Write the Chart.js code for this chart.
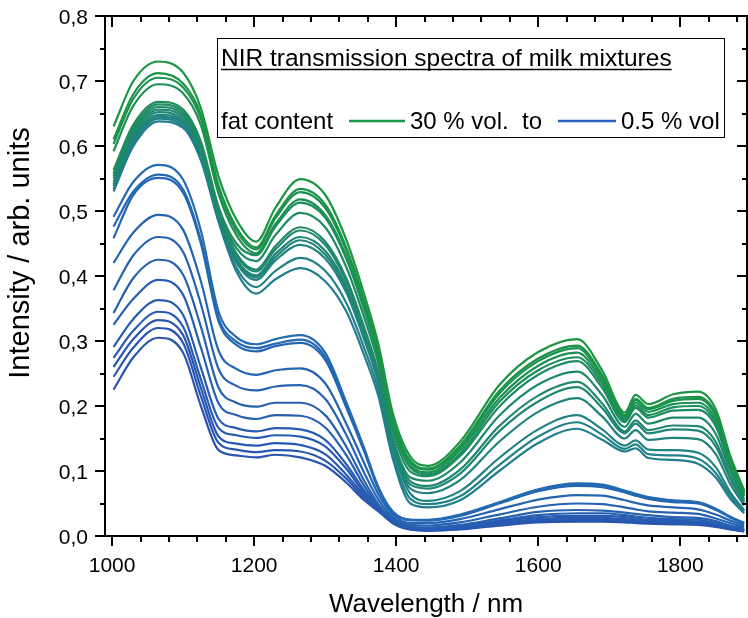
<!DOCTYPE html>
<html>
<head>
<meta charset="utf-8">
<script src="https://cdn.jsdelivr.net/npm/chart.js@4.4.0/dist/chart.umd.min.js"></script>
<style>
  html, body { margin: 0; padding: 0; background: #fff; }
  #wrap { width: 748px; height: 618px; }
</style>
</head>
<body>
<div id="wrap"><canvas id="chart" width="748" height="618"></canvas></div>
<script>
'use strict';
const wavelength = [1002, 1030, 1065, 1100, 1125, 1150, 1175, 1203, 1230, 1265, 1300, 1330, 1355, 1375, 1395, 1420, 1445, 1490, 1545, 1600, 1655, 1690, 1722, 1737, 1755, 1790, 1825, 1850, 1870, 1890];

// high fat group (green -> teal)
const spec01 = [0.630, 0.700, 0.730, 0.713, 0.658, 0.553, 0.487, 0.453, 0.505, 0.549, 0.525, 0.455, 0.372, 0.295, 0.190, 0.122, 0.108, 0.145, 0.232, 0.283, 0.303, 0.255, 0.190, 0.217, 0.203, 0.218, 0.222, 0.195, 0.125, 0.070];
const spec02 = [0.610, 0.680, 0.712, 0.696, 0.648, 0.539, 0.475, 0.444, 0.493, 0.534, 0.510, 0.443, 0.362, 0.286, 0.182, 0.116, 0.104, 0.139, 0.223, 0.273, 0.293, 0.248, 0.186, 0.211, 0.197, 0.211, 0.214, 0.188, 0.120, 0.068];
const spec03 = [0.603, 0.673, 0.705, 0.690, 0.642, 0.534, 0.470, 0.441, 0.489, 0.529, 0.505, 0.439, 0.358, 0.283, 0.180, 0.113, 0.102, 0.136, 0.219, 0.269, 0.289, 0.244, 0.184, 0.209, 0.195, 0.208, 0.211, 0.185, 0.118, 0.067];
const spec04 = [0.592, 0.662, 0.695, 0.681, 0.632, 0.526, 0.463, 0.435, 0.480, 0.518, 0.494, 0.430, 0.350, 0.277, 0.174, 0.108, 0.098, 0.132, 0.212, 0.262, 0.282, 0.239, 0.181, 0.205, 0.191, 0.203, 0.205, 0.179, 0.115, 0.065];
const spec05 = [0.563, 0.633, 0.668, 0.656, 0.607, 0.506, 0.450, 0.432, 0.476, 0.513, 0.490, 0.426, 0.348, 0.274, 0.172, 0.105, 0.095, 0.127, 0.206, 0.255, 0.275, 0.234, 0.178, 0.201, 0.186, 0.198, 0.200, 0.174, 0.112, 0.063];
const spec06 = [0.558, 0.628, 0.664, 0.652, 0.602, 0.503, 0.443, 0.423, 0.463, 0.497, 0.475, 0.413, 0.336, 0.265, 0.163, 0.099, 0.092, 0.123, 0.199, 0.248, 0.269, 0.228, 0.175, 0.197, 0.182, 0.193, 0.194, 0.169, 0.108, 0.061];
const spec07 = [0.554, 0.624, 0.660, 0.648, 0.599, 0.500, 0.435, 0.410, 0.446, 0.475, 0.453, 0.396, 0.321, 0.252, 0.152, 0.090, 0.085, 0.113, 0.185, 0.233, 0.253, 0.217, 0.168, 0.188, 0.173, 0.182, 0.182, 0.157, 0.101, 0.057];
const spec08 = [0.550, 0.620, 0.656, 0.645, 0.595, 0.497, 0.432, 0.407, 0.441, 0.470, 0.448, 0.391, 0.318, 0.249, 0.149, 0.084, 0.077, 0.102, 0.169, 0.216, 0.237, 0.204, 0.161, 0.178, 0.163, 0.170, 0.169, 0.145, 0.093, 0.053];
const spec09 = [0.545, 0.615, 0.652, 0.641, 0.591, 0.494, 0.427, 0.401, 0.434, 0.460, 0.439, 0.384, 0.311, 0.243, 0.145, 0.079, 0.073, 0.096, 0.161, 0.207, 0.229, 0.197, 0.158, 0.173, 0.158, 0.164, 0.162, 0.138, 0.089, 0.051];
const spec10 = [0.541, 0.611, 0.648, 0.637, 0.588, 0.491, 0.424, 0.398, 0.429, 0.455, 0.433, 0.379, 0.307, 0.240, 0.142, 0.073, 0.066, 0.086, 0.145, 0.191, 0.212, 0.184, 0.150, 0.163, 0.148, 0.151, 0.149, 0.126, 0.081, 0.047];
const spec11 = [0.538, 0.608, 0.645, 0.635, 0.585, 0.489, 0.421, 0.394, 0.424, 0.448, 0.427, 0.374, 0.302, 0.236, 0.138, 0.065, 0.054, 0.069, 0.120, 0.164, 0.186, 0.164, 0.139, 0.147, 0.133, 0.132, 0.128, 0.106, 0.068, 0.040];
const spec12 = [0.534, 0.604, 0.642, 0.631, 0.582, 0.486, 0.413, 0.383, 0.408, 0.428, 0.408, 0.358, 0.289, 0.225, 0.128, 0.057, 0.049, 0.061, 0.109, 0.153, 0.175, 0.156, 0.134, 0.141, 0.126, 0.124, 0.119, 0.097, 0.063, 0.038];
const spec13 = [0.530, 0.600, 0.638, 0.628, 0.578, 0.483, 0.407, 0.373, 0.395, 0.412, 0.392, 0.345, 0.278, 0.215, 0.120, 0.050, 0.044, 0.055, 0.100, 0.143, 0.165, 0.148, 0.130, 0.135, 0.120, 0.117, 0.111, 0.090, 0.058, 0.035];
// low fat group (blue)
const spec14 = [0.491, 0.545, 0.571, 0.548, 0.470, 0.345, 0.306, 0.295, 0.303, 0.309, 0.282, 0.205, 0.135, 0.075, 0.038, 0.025, 0.025, 0.033, 0.052, 0.072, 0.081, 0.079, 0.070, 0.065, 0.060, 0.055, 0.052, 0.042, 0.030, 0.020];
const spec15 = [0.476, 0.530, 0.556, 0.533, 0.455, 0.335, 0.299, 0.289, 0.296, 0.302, 0.276, 0.200, 0.132, 0.074, 0.037, 0.025, 0.024, 0.032, 0.051, 0.070, 0.079, 0.077, 0.068, 0.063, 0.059, 0.054, 0.051, 0.041, 0.029, 0.020];
const spec16 = [0.458, 0.525, 0.551, 0.528, 0.450, 0.330, 0.294, 0.284, 0.292, 0.297, 0.271, 0.197, 0.130, 0.072, 0.037, 0.024, 0.024, 0.031, 0.050, 0.069, 0.077, 0.075, 0.067, 0.062, 0.057, 0.052, 0.050, 0.040, 0.029, 0.019];
const spec17 = [0.420, 0.467, 0.494, 0.471, 0.392, 0.285, 0.257, 0.248, 0.255, 0.258, 0.235, 0.172, 0.112, 0.064, 0.033, 0.020, 0.020, 0.026, 0.041, 0.056, 0.063, 0.062, 0.055, 0.051, 0.047, 0.044, 0.041, 0.033, 0.024, 0.016];
const spec18 = [0.378, 0.432, 0.460, 0.437, 0.357, 0.257, 0.231, 0.224, 0.230, 0.232, 0.211, 0.155, 0.097, 0.056, 0.029, 0.017, 0.016, 0.021, 0.033, 0.045, 0.050, 0.049, 0.044, 0.041, 0.038, 0.036, 0.034, 0.027, 0.020, 0.013];
const spec19 = [0.343, 0.397, 0.425, 0.402, 0.322, 0.228, 0.205, 0.199, 0.205, 0.205, 0.186, 0.137, 0.085, 0.049, 0.026, 0.015, 0.013, 0.017, 0.027, 0.037, 0.040, 0.039, 0.036, 0.034, 0.032, 0.029, 0.028, 0.023, 0.016, 0.011];
const spec20 = [0.325, 0.365, 0.394, 0.371, 0.290, 0.204, 0.186, 0.180, 0.186, 0.185, 0.167, 0.124, 0.077, 0.046, 0.024, 0.013, 0.012, 0.015, 0.024, 0.032, 0.035, 0.035, 0.032, 0.030, 0.028, 0.026, 0.025, 0.020, 0.014, 0.010];
const spec21 = [0.291, 0.334, 0.363, 0.340, 0.259, 0.180, 0.166, 0.161, 0.166, 0.164, 0.148, 0.110, 0.070, 0.044, 0.023, 0.012, 0.011, 0.014, 0.022, 0.029, 0.031, 0.031, 0.029, 0.027, 0.025, 0.024, 0.022, 0.018, 0.013, 0.009];
const spec22 = [0.274, 0.316, 0.345, 0.322, 0.241, 0.166, 0.155, 0.151, 0.155, 0.153, 0.138, 0.103, 0.066, 0.042, 0.022, 0.012, 0.010, 0.012, 0.020, 0.026, 0.028, 0.028, 0.026, 0.025, 0.023, 0.022, 0.021, 0.017, 0.012, 0.008];
const spec23 = [0.260, 0.303, 0.332, 0.309, 0.228, 0.153, 0.142, 0.139, 0.143, 0.140, 0.126, 0.094, 0.062, 0.041, 0.021, 0.011, 0.009, 0.012, 0.018, 0.025, 0.026, 0.026, 0.024, 0.023, 0.022, 0.021, 0.019, 0.016, 0.011, 0.008];
const spec24 = [0.245, 0.290, 0.320, 0.297, 0.215, 0.143, 0.133, 0.129, 0.132, 0.130, 0.116, 0.088, 0.058, 0.039, 0.020, 0.010, 0.009, 0.011, 0.017, 0.023, 0.024, 0.024, 0.023, 0.022, 0.021, 0.019, 0.018, 0.015, 0.011, 0.007];
const spec25 = [0.225, 0.275, 0.305, 0.282, 0.200, 0.132, 0.124, 0.121, 0.125, 0.121, 0.108, 0.082, 0.055, 0.038, 0.020, 0.010, 0.008, 0.010, 0.016, 0.021, 0.022, 0.022, 0.021, 0.020, 0.019, 0.018, 0.017, 0.014, 0.010, 0.007];

const highFat = [spec01, spec02, spec03, spec04, spec05, spec06, spec07, spec08, spec09, spec10, spec11, spec12, spec13];
const lowFat = [spec14, spec15, spec16, spec17, spec18, spec19, spec20, spec21, spec22, spec23, spec24, spec25];

const xTicks = [1000, 1200, 1400, 1600, 1800];
const yTicks = [0, 0.1, 0.2, 0.3, 0.4, 0.5, 0.6, 0.7, 0.8];
const yTickLabels = ['0,0', '0,1', '0,2', '0,3', '0,4', '0,5', '0,6', '0,7', '0,8'];
const xTitle = 'Wavelength / nm';
const yTitle = 'Intensity / arb. units';
const legendTitle = 'NIR transmission spectra of milk mixtures';
const legendRow = ['fat content', '30 % vol.  to', '0.5 % vol'];

const FONT = '"Liberation Sans", Arial, sans-serif';

function mix(c1, c2, t) {
  const r = Math.round(c1[0] + (c2[0] - c1[0]) * t);
  const g = Math.round(c1[1] + (c2[1] - c1[1]) * t);
  const b = Math.round(c1[2] + (c2[2] - c1[2]) * t);
  return `rgb(${r},${g},${b})`;
}

const datasets = [];
highFat.forEach((s, i) => {
  datasets.push({
    data: s.map((v, k) => ({x: wavelength[k], y: v})),
    borderColor: mix([27, 150, 66], [33, 126, 142], i / (highFat.length - 1)),
    borderWidth: 2.2
  });
});
lowFat.forEach((s, i) => {
  datasets.push({
    data: s.map((v, k) => ({x: wavelength[k], y: v})),
    borderColor: mix([35, 106, 178], [42, 84, 176], i / (lowFat.length - 1)),
    borderWidth: 2.2
  });
});

function line(ctx, x1, y1, x2, y2) {
  ctx.beginPath();
  ctx.moveTo(x1, y1);
  ctx.lineTo(x2, y2);
  ctx.stroke();
}

// frame, ticks, labels and the text box
const decorations = {
  id: 'decorations',
  afterDraw(chart) {
    const {ctx, chartArea: a, scales: {x, y}} = chart;
    ctx.save();
    ctx.strokeStyle = '#000';
    ctx.fillStyle = '#000';
    ctx.lineWidth = 2;
    ctx.strokeRect(a.left, a.top, a.right - a.left, a.bottom - a.top);

    // x ticks, minor every 40 nm
    for (let v = 1000; v <= 1880; v += 40) {
      const px = Math.round(x.getPixelForValue(v));
      const major = xTicks.includes(v);
      line(ctx, px, a.bottom, px, a.bottom + (major ? 10 : 6));
      line(ctx, px, a.top, px, a.top + (major ? 11 : 6));
    }
    // y ticks, minor every 0.05
    for (let k = 0; k <= 16; k++) {
      const py = Math.round(y.getPixelForValue(k * 0.05));
      const major = k % 2 === 0;
      line(ctx, a.left, py, a.left - (major ? 10 : 5), py);
      line(ctx, a.right, py, a.right - (major ? 10 : 5), py);
    }

    ctx.font = '21px ' + FONT;
    ctx.textAlign = 'center';
    ctx.textBaseline = 'alphabetic';
    xTicks.forEach(v => ctx.fillText(String(v), x.getPixelForValue(v), 572));
    ctx.textAlign = 'right';
    yTicks.forEach((v, i) => ctx.fillText(yTickLabels[i], 88, y.getPixelForValue(v) + 8));

    // axis titles
    ctx.font = '26px ' + FONT;
    ctx.textAlign = 'center';
    ctx.fillText(xTitle, (a.left + a.right) / 2, 612);
    ctx.save();
    ctx.font = '29px ' + FONT;
    ctx.translate(29, 253);
    ctx.rotate(-Math.PI / 2);
    ctx.fillText(yTitle, 0, 0);
    ctx.restore();

    // legend box
    ctx.fillStyle = '#fff';
    ctx.fillRect(218, 39, 506, 98);
    ctx.fillStyle = '#000';
    ctx.lineWidth = 1;
    ctx.strokeRect(217.5, 38.5, 507, 99);
    ctx.font = '24.5px ' + FONT;
    ctx.textAlign = 'left';
    ctx.fillText(legendTitle, 221, 66);
    const tw = ctx.measureText(legendTitle).width;
    ctx.lineWidth = 1.5;
    line(ctx, 221, 69.5, 221 + tw, 69.5);

    ctx.font = '24px ' + FONT;
    ctx.fillText(legendRow[0], 221, 129);
    ctx.fillText(legendRow[1], 410, 129);
    ctx.fillText(legendRow[2], 621, 129);
    ctx.lineWidth = 2.5;
    ctx.strokeStyle = 'rgb(30,150,72)';
    line(ctx, 349, 121, 405, 121);
    ctx.strokeStyle = 'rgb(42,92,190)';
    line(ctx, 558, 121, 616, 121);
    ctx.restore();
  }
};

new Chart(document.getElementById('chart'), {
  type: 'line',
  data: {datasets: datasets},
  options: {
    responsive: false,
    animation: false,
    devicePixelRatio: 1,
    layout: {padding: {top: 16, right: 1, left: 0, bottom: 0}},
    elements: {
      point: {radius: 0},
      line: {cubicInterpolationMode: 'monotone', fill: false}
    },
    plugins: {legend: {display: false}, tooltip: {enabled: false}},
    scales: {
      x: {
        type: 'linear',
        min: 990,
        max: 1894,
        ticks: {display: false},
        grid: {display: false},
        border: {display: false},
        afterFit(s) { s.height = 82; }
      },
      y: {
        min: 0,
        max: 0.8,
        ticks: {display: false},
        grid: {display: false},
        border: {display: false},
        afterFit(s) { s.width = 105; }
      }
    }
  },
  plugins: [decorations]
});
</script>
</body>
</html>
